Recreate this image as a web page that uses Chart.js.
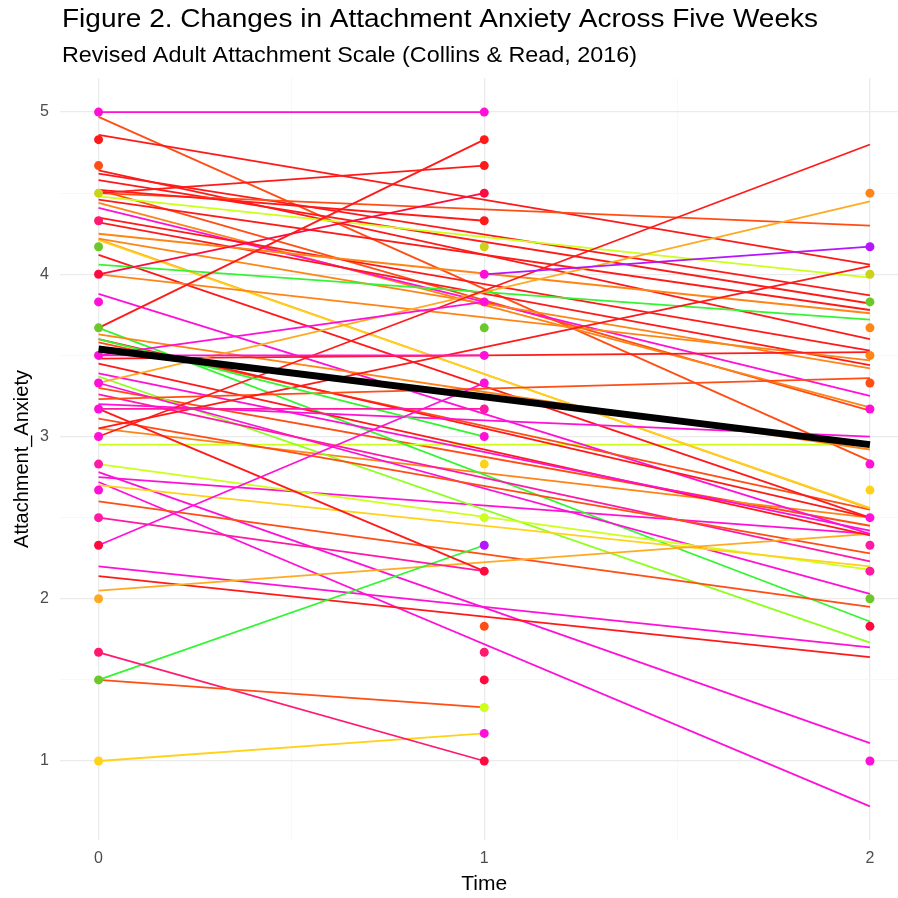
<!DOCTYPE html>
<html>
<head>
<meta charset="utf-8">
<script src="https://cdn.jsdelivr.net/npm/chart.js@4.4.1/dist/chart.umd.min.js"></script>
<style>
html, body { margin: 0; padding: 0; overflow: hidden; background: #fff; }
#wrap { width: 913px; height: 898px; }
</style>
</head>
<body>
<div id="wrap"><canvas id="chart" width="913" height="898"></canvas></div>
<script>
const titleText = 'Figure 2. Changes in Attachment Anxiety Across Five Weeks';
const subtitleText = 'Revised Adult Attachment Scale (Collins & Read, 2016)';

const colors = {
    magenta: '#ff10d8', pink: '#ff1aa6', hotpink: '#ff1a70', crimson: '#ff0a40',
    red: '#ff1a1a', orangered: '#ff4d14', orange: '#ff8416', amber: '#ffaa22',
    gold: '#ffd21a', yellowgreen: '#ccff1a', olive: '#ccd21a', lime: '#8cff1a',
    green: '#33f533', darkgreen: '#6cc82a', purple: '#b414ff'
};

// individual fitted lines: start time/value, end time/value, colour
const lineStartTime = [0,0,0,0,0,0,0,0,0,0,0,0,0,0,0,0,1,
    0,0,0,0,0,0,0,0,0,0,0,0,0,0,0,0,0,0,0,0,0,0,0,0,0,0,0,0,0,0,0,0,0,0,0,0,0,0,0,0,0,0,0,0,0,0,0,0,0,0];
const lineStartValue = [5.0,3.67,4.5,4.0,4.52,3.5,2.33,3.5,3.17,3.6,3.17,1.5,1.67,1.0,2.5,1.5,4.0,
    3.0,3.33,4.5,4.86,3.05,4.48,4.62,4.58,4.46,4.25,4.06,4.64,4.35,3.48,4.0,4.32,4.22,3.23,4.41,4.44,
    4.52,3.2,3.63,4.97,4.21,4.215,4.12,3.6,3.58,3.88,3.39,3.45,2.05,3.11,3.26,2.7,2.83,3.33,2.6,3.67,
    3.37,2.2,2.14,2.78,2.72,2.75,2.95,3.05,3.3];
const lineEndTime = [1,1,1,1,1,1,1,1,1,1,1,1,1,1,1,1,2,
    2,2,2,2,2,2,2,2,2,2,2,2,2,2,2,2,2,2,2,2,2,2,2,2,2,2,2,2,2,2,2,2,2,2,2,2,2,2,2,2,2,2,2,2,2,2,2,2,2,2];
const lineEndValue = [5.0,4.83,4.67,4.5,4.33,3.83,3.33,3.5,3.17,3.0,2.17,1.33,1.0,1.17,2.17,2.33,4.17,
    4.8,4.45,4.3,4.06,4.05,3.98,3.87,3.82,3.78,3.76,3.72,3.6,3.53,3.52,3.47,3.44,3.42,3.36,3.25,3.18,
    3.16,3.0,2.92,2.85,2.56,2.555,2.5,2.5,2.55,2.4,2.42,2.39,2.4,2.28,2.23,2.2,2.18,2.03,1.95,1.86,
    1.73,1.70,1.64,1.11,0.72,2.4,2.95,2.5,2.45];
const lineColor = ['magenta','red','red','crimson','red','magenta','magenta','magenta','pink','green',
    'red','orangered','hotpink','gold','pink','green','purple',
    'red','amber','orangered','red','red','yellowgreen','red','red','red','orange','green','red','red',
    'red','orange','red','orange','orangered','magenta','orange','orangered','magenta','orange',
    'orangered','gold','amber','red','red','orangered','magenta','magenta','red','amber','orangered',
    'pink','gold','yellowgreen','magenta','orangered','green','lime','magenta','red','magenta','magenta',
    'magenta','yellowgreen','orange','orangered'];

// observed scores
const pointTime = [0,0,0,0,0,0,0,0,0,0,0,0,0,0,0,0,0,0,0,0,0,
    1,1,1,1,1,1,1,1,1,1,1,1,1,1,1,1,1,1,1,1,1,1,1,
    2,2,2,2,2,2,2,2,2,2,2,2,2,2,2,2];
const pointValue = [5.0,4.83,4.67,4.5,4.33,4.17,4.0,3.83,3.67,3.5,3.33,3.17,3.0,2.83,2.67,2.5,2.33,2.0,1.67,1.5,1.0,
    5.0,4.83,4.67,4.5,4.33,4.17,4.0,3.83,3.67,3.5,3.33,3.17,3.0,2.83,2.5,2.33,2.17,1.83,1.67,1.5,1.33,1.17,1.0,
    4.5,4.17,4.0,3.83,3.67,3.5,3.33,3.17,2.83,2.67,2.5,2.33,2.17,2.0,1.83,1.0];
const pointColor = ['magenta','red','orangered','olive','hotpink','darkgreen','crimson','magenta','darkgreen',
    'magenta','magenta','magenta','magenta','pink','magenta','pink','crimson','amber','hotpink','darkgreen','gold',
    'magenta','red','red','crimson','red','olive','magenta','magenta','darkgreen','magenta','magenta','pink',
    'magenta','gold','yellowgreen','purple','crimson','orangered','hotpink','crimson','yellowgreen','magenta','crimson',
    'orange','purple','olive','darkgreen','orange','orange','orangered','magenta','magenta','gold','magenta',
    'pink','pink','darkgreen','crimson','magenta'];

// overall trend
const meanTime = [0, 2];
const meanValue = [3.54, 2.95];

const datasets = [];
lineStartValue.forEach((v, i) => {
    datasets.push({
        data: [{x: lineStartTime[i], y: v}, {x: lineEndTime[i], y: lineEndValue[i]}],
        showLine: true,
        borderColor: colors[lineColor[i]],
        borderWidth: 1.8,
        pointRadius: 0,
        order: 3
    });
});
datasets.push({
    data: pointValue.map((v, i) => ({x: pointTime[i], y: v})),
    backgroundColor: pointColor.map(c => colors[c]),
    borderWidth: 0,
    pointRadius: 4.5,
    order: 2
});
datasets.push({
    data: meanValue.map((v, i) => ({x: meanTime[i], y: v})),
    showLine: true,
    borderColor: '#000',
    borderWidth: 7,
    pointRadius: 0,
    order: 1
});

function drawFitted(c, text, x, y, size, width) {
    c.save();
    c.font = size + 'px "Liberation Sans", Arial, sans-serif';
    const sx = width / c.measureText(text).width;
    c.translate(x, y);
    c.scale(sx, 1);
    c.fillStyle = '#000';
    c.textBaseline = 'alphabetic';
    c.fillText(text, 0, 0);
    c.restore();
}

const titles = {
    id: 'titles',
    afterDraw(chart) {
        drawFitted(chart.ctx, titleText, 62, 27, 26, 756);
        drawFitted(chart.ctx, subtitleText, 62, 62, 22, 575);
    }
};

const gridColor = ctx => Number.isInteger(ctx.tick.value) ? '#ebebeb' : '#f5f5f5';
const gridWidth = ctx => Number.isInteger(ctx.tick.value) ? 1.3 : 0.7;
const tickFont = {family: '"Liberation Sans", Arial, sans-serif', size: 16};

const ctx = document.getElementById('chart').getContext('2d');
const chart = new Chart(ctx, {
    type: 'scatter',
    data: { datasets: datasets },
    options: {
        responsive: false,
        animation: false,
        layout: { padding: { top: 78, left: 0, right: 0, bottom: 0 } },
        plugins: { legend: { display: false }, tooltip: { enabled: false } },
        scales: {
            x: {
                type: 'linear', min: -0.1, max: 2.1,
                afterBuildTicks: axis => { axis.ticks = [0, 0.5, 1, 1.5, 2].map(v => ({value: v})); },
                afterFit: axis => { axis.height = 58; },
                ticks: { callback: v => Number.isInteger(v) ? v : '', color: '#4d4d4d', font: tickFont, padding: 9, maxRotation: 0 },
                grid: { color: gridColor, lineWidth: gridWidth, drawTicks: false },
                border: { display: false },
                title: { display: true, text: 'Time', color: '#000',
                    font: {family: '"Liberation Sans", Arial, sans-serif', size: 21}, padding: {top: 0, bottom: 1} }
            },
            y: {
                type: 'linear', min: 0.513, max: 5.21,
                afterBuildTicks: axis => { axis.ticks = [1, 1.5, 2, 2.5, 3, 3.5, 4, 4.5, 5].map(v => ({value: v})); },
                afterFit: axis => { axis.width = 60; },
                ticks: { callback: v => Number.isInteger(v) ? v : '', color: '#4d4d4d', font: tickFont, padding: 11 },
                grid: { color: gridColor, lineWidth: gridWidth, drawTicks: false },
                border: { display: false },
                title: { display: true, text: 'Attachment_Anxiety', color: '#000',
                    font: {family: '"Liberation Sans", Arial, sans-serif', size: 20}, padding: {top: 10, bottom: 0} }
            }
        }
    },
    plugins: [titles]
});
</script>
</body>
</html>
